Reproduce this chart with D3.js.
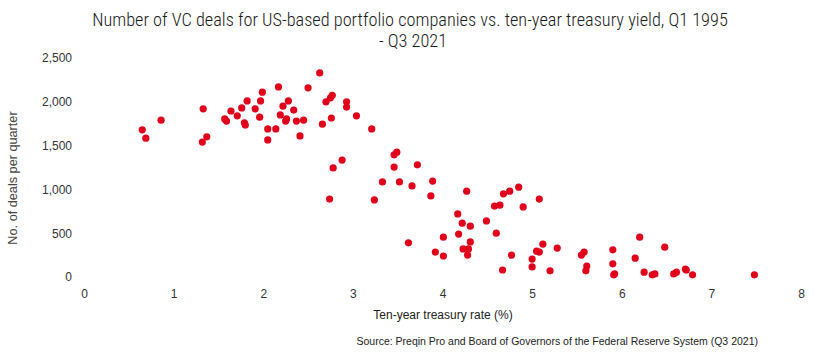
<!DOCTYPE html>
<meta charset="utf-8" />
<head>
  <style>
    body {
      margin: 0;
      background: #fff;
    }
    svg text {
      font-family: "Liberation Sans", Arial, sans-serif;
    }
    .title {
      font-family: "Roboto Condensed", "Liberation Sans Narrow", sans-serif;
      font-size: 18.3px;
      font-weight: 300;
      fill: #1a1a1a;
    }
    .domain,
    g.tick line {
      display: none;
    }
    g.tick text {
      font-size: 12px;
      fill: #333;
    }
  </style>
</head>
<script src="https://cdn.jsdelivr.net/npm/d3@7"></script>
<body>
  <div id="chart"></div>
  <script>
    // ten-year treasury yield (%) per quarter, Q1 1995 - Q3 2021
    const yieldPct = [
      2.63, 2.17, 2.50, 1.99, 1.82, 1.97, 2.28, 2.22, 1.76, 1.91,
      1.33, 1.64, 2.34, 1.71, 1.96, 2.19, 0.86, 1.57, 1.59, 2.26,
      2.25, 2.37, 2.45, 1.79, 1.80, 2.66, 2.76, 0.65, 2.05, 2.14,
      0.69, 1.37, 1.32, 2.41, 2.05, 2.77, 2.75, 2.70, 2.93, 2.93,
      3.04, 3.21, 3.49, 3.46, 2.88, 2.78, 3.46, 3.72, 3.33, 3.52,
      3.66, 3.89, 3.87, 2.74, 3.24, 4.27, 4.68, 4.75, 4.85, 4.58,
      4.64, 4.90, 5.08, 4.17, 4.22, 4.31, 4.49, 4.18, 4.60, 4.01,
      4.31, 3.62, 5.12, 4.23, 4.29, 4.28, 3.92, 4.01, 4.77, 5.05,
      5.08, 5.00, 5.00, 4.67, 5.20, 6.20, 6.48, 5.28, 5.58, 5.55,
      5.90, 6.15, 5.90, 5.61, 5.60, 5.91, 5.92, 6.25, 6.34, 6.37,
      6.58, 6.61, 6.71, 6.72, 6.79, 7.48
    ];

    // number of VC deals in the same quarter
    const dealCount = [
      2330, 2170, 2160, 2110, 2010, 2010, 2010, 1950, 1930, 1920,
      1920, 1895, 1905, 1840, 1825, 1850, 1790, 1805, 1780, 1805,
      1780, 1780, 1790, 1760, 1735, 1745, 1815, 1680, 1690, 1690,
      1585, 1600, 1540, 1610, 1565, 2075, 2045, 2000, 2000, 1940,
      1840, 1690, 1425, 1395, 1335, 1245, 1255, 1280, 1085, 1085,
      1040, 1095, 925, 890, 880, 980, 950, 980, 1025, 810,
      820, 800, 890, 720, 615, 580, 640, 490, 500, 455,
      400, 390, 375, 320, 320, 250, 285, 240, 250, 295,
      285, 205, 115, 80, 70, 455, 340, 330, 285, 250,
      310, 215, 150, 125, 70, 25, 35, 55, 25, 35,
      35, 55, 90, 80, 25, 25
    ];

    const xTicks = [0, 1, 2, 3, 4, 5, 6, 7, 8];
    const yTicks = [0, 500, 1000, 1500, 2000, 2500];

    const svgWidth = 815;
    const svgHeight = 354;
    const margin = { left: 84, right: 14, top: 58, bottom: 77 };
    const width = svgWidth - margin.left - margin.right;
    const height = svgHeight - margin.top - margin.bottom;

    const svg = d3
      .select("#chart")
      .append("svg")
      .attr("width", svgWidth)
      .attr("height", svgHeight);

    const g = svg
      .append("g")
      .attr("transform", "translate(" + margin.left + "," + margin.top + ")");

    const x = d3.scaleLinear().domain([0, 8]).range([0, width]);
    const y = d3.scaleLinear().domain([0, 2500]).range([height, 0]);

    // axes - labels only, no lines
    g.append("g")
      .attr("transform", "translate(0," + height + ")")
      .call(d3.axisBottom(x).tickValues(xTicks).tickSize(0).tickPadding(12));

    g.append("g")
      .call(
        d3
          .axisLeft(y)
          .tickValues(yTicks)
          .tickSize(0)
          .tickPadding(12)
          .tickFormat(d3.format(","))
      );

    // dots
    const points = yieldPct.map((v, i) => ({ x: v, y: dealCount[i] }));
    g.selectAll("circle")
      .data(points)
      .join("circle")
      .attr("cx", (d) => x(d.x))
      .attr("cy", (d) => y(d.y))
      .attr("r", 3.6)
      .attr("fill", "#e0001b");

    // title
    const title = svg
      .append("text")
      .attr("class", "title")
      .attr("text-anchor", "middle");
    title.append("tspan").attr("x", 410).attr("y", 26)
      .text("Number of VC deals for US-based portfolio companies vs. ten-year treasury yield, Q1 1995");
    title.append("tspan").attr("x", 413).attr("y", 47).text("- Q3 2021");

    // axis titles
    svg.append("text")
      .attr("x", 443)
      .attr("y", 319)
      .attr("text-anchor", "middle")
      .attr("font-size", "12px")
      .attr("fill", "#222")
      .text("Ten-year treasury rate (%)");

    svg.append("text")
      .attr("transform", "translate(17,178) rotate(-90)")
      .attr("text-anchor", "middle")
      .attr("font-size", "12.7px")
      .attr("fill", "#444")
      .text("No. of deals per quarter");

    // source
    svg.append("text")
      .attr("x", 758)
      .attr("y", 345)
      .attr("text-anchor", "end")
      .attr("font-size", "10.5px")
      .attr("fill", "#222")
      .text("Source: Preqin Pro and Board of Governors of the Federal Reserve System (Q3 2021)");
  </script>
</body>
